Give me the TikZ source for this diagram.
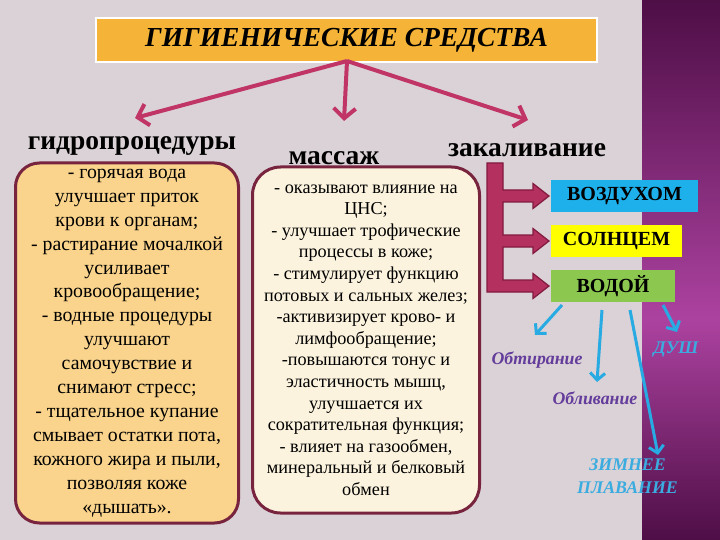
\documentclass[tikz,border=0pt]{standalone}
\usepackage{fontspec}
\setmainfont{Liberation Serif}
\usetikzlibrary{arrows.meta,shadings}
\definecolor{bgc}{RGB}{218,210,214}
\definecolor{purpdark}{RGB}{78,14,70}
\definecolor{purpmid}{RGB}{172,66,160}
\definecolor{titleor}{RGB}{245,180,55}
\definecolor{tarrowc}{RGB}{192,52,102}
\definecolor{boxline}{RGB}{120,36,62}
\definecolor{leftfill}{RGB}{250,212,140}
\definecolor{midfill}{RGB}{252,243,222}
\definecolor{brfill}{RGB}{180,48,94}
\definecolor{brline}{RGB}{130,26,64}
\definecolor{cyanbox}{RGB}{30,176,234}
\definecolor{yelbox}{RGB}{255,255,0}
\definecolor{grnbox}{RGB}{140,200,80}
\definecolor{bluearr}{RGB}{40,170,226}
\definecolor{purtext}{RGB}{100,60,155}
\definecolor{cyantext}{RGB}{58,172,224}
\tikzset{
  tarrow/.style={draw=tarrowc, line width=4pt, -{Straight Barb[length=10pt,width=22pt,line width=4pt]}},
  barrow/.style={draw=bluearr, line width=3pt, -{Straight Barb[length=7pt,width=15pt,line width=3pt]}},
  head/.style={font=\fontsize{27.5}{32}\selectfont\bfseries, inner sep=0},
  textbox/.style={draw=boxline, line width=3pt, rounded corners=24pt, align=center, inner sep=0},
  catbox/.style={minimum height=32pt, inner sep=0, font=\fontsize{20}{24}\selectfont\bfseries},
  lab/.style={font=\fontsize{17.8}{23}\selectfont\bfseries\itshape, inner sep=0, align=center},
}
\begin{document}
\begin{tikzpicture}[x=1pt,y=-1pt]
\useasboundingbox (0,0) rectangle (720,540);
\fill[bgc] (0,0) rectangle (642,540);
\shade[top color=purpdark, bottom color=purpmid] (642,0) rectangle (720,320);
\shade[top color=purpmid, bottom color=purpdark] (642,319.5) rectangle (720,540);

% title
\node[draw=white, line width=2pt, fill=titleor, minimum width=501pt, minimum height=44pt, inner sep=0,
      font=\fontsize{27.5}{32}\selectfont\bfseries\itshape] (title) at (346.5,40) {ГИГИЕНИЧЕСКИЕ СРЕДСТВА};

\coordinate (torig) at (347,61);
\coordinate (tl) at (135,118);
\coordinate (tm) at (344,121);
\coordinate (tr) at (528,120);
\draw[tarrow] (torig) -- (tl);
\draw[tarrow] (torig) -- (tm);
\draw[tarrow] (torig) -- (tr);

% headings
\node[head, anchor=base] (hydro) at (132,150) {гидропроцедуры};
\node[head, anchor=base] (mass) at (334,165) {массаж};
\node[head, anchor=base] (zak) at (527,157) {закаливание};

% left box
\node[textbox, fill=leftfill, minimum width=223pt, minimum height=360pt,
      font=\fontsize{19.8}{23.9}\selectfont] (lbox) at (127,343) {%
- горячая вода\\
улучшает приток\\
крови к органам;\\
- растирание мочалкой\\
усиливает\\
кровообращение;\\
- водные процедуры\\
улучшают\\
самочувствие и\\
снимают стресс;\\
- тщательное купание\\
смывает остатки пота,\\
кожного жира и пыли,\\
позволяя коже\\
«дышать».};

% middle box
\node[textbox, fill=midfill, minimum width=227pt, minimum height=346pt, rounded corners=28pt,
      font=\fontsize{18.2}{21.6}\selectfont] (mbox) at (366,340) {%
- оказывают влияние на\\
ЦНС;\\
- улучшает трофические\\
процессы в коже;\\
- стимулирует функцию\\
потовых и сальных желез;\\
-активизирует крово- и\\
лимфообращение;\\
-повышаются тонус и\\
эластичность мышц,\\
улучшается их\\
сократительная функция;\\
- влияет на газообмен,\\
минеральный и белковый\\
обмен};

% category boxes
\node[catbox, fill=cyanbox, minimum width=147pt] (air) at (624.5,196) {ВОЗДУХОМ};
\node[catbox, fill=yelbox, minimum width=131pt] (sun) at (616.5,241) {СОЛНЦЕМ};
\node[catbox, fill=grnbox, minimum width=124pt] (water) at (613,286) {ВОДОЙ};

% bracket
\fill[brfill, draw=brline, line width=1.2pt, line join=miter]
  (487,163) -- (503,163) -- (503,190) -- (533,190) -- (533,183.5) -- (549,196) -- (533,208.5) -- (533,202)
  -- (503,202) -- (503,235) -- (533,235) -- (533,228.5) -- (549,241) -- (533,253.5) -- (533,247)
  -- (503,247) -- (503,280) -- (533,280) -- (533,273.5) -- (549,286) -- (533,298.5) -- (533,292)
  -- (487,292) -- cycle;

% blue arrows
\coordinate (b1s) at (562,305); \coordinate (b1e) at (535,335);
\coordinate (b2s) at (602,310); \coordinate (b2e) at (597,382);
\coordinate (b3s) at (630,310); \coordinate (b3e) at (658,455);
\coordinate (b4s) at (663,305); \coordinate (b4e) at (677,332);
\draw[barrow] (b1s) -- (b1e);
\draw[barrow] (b2s) -- (b2e);
\draw[barrow] (b3s) -- (b3e);
\draw[barrow] (b4s) -- (b4e);

% labels
\node[lab, text=purtext] (obtir) at (537,360) {Обтирание};
\node[lab, text=purtext] (obliv) at (595,398) {Обливание};
\node[lab, text=cyantext] (dush) at (676,350) {ДУШ};
\node[lab, text=cyantext] (swim) at (627.5,476) {ЗИМНЕЕ\\ПЛАВАНИЕ};
\end{tikzpicture}
\end{document}
